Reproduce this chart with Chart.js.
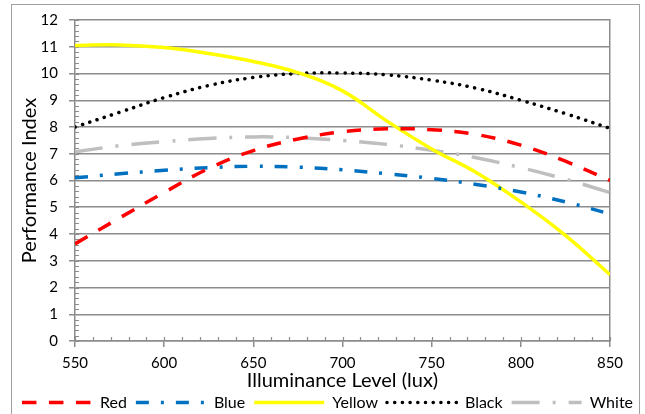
<!DOCTYPE html>
<html>
<head>
<meta charset="utf-8">
<script src="https://cdn.jsdelivr.net/npm/chart.js@4"></script>
<style>
  body { margin: 0; background: #fff; }
  #wrap { position: relative; width: 645px; height: 414px; }
  #frame { position: absolute; left: 11px; top: 4px; width: 627px; height: 420px;
           border: 1.5px solid #a0a0a0; pointer-events: none; }
</style>
</head>
<body>
<div id="wrap">
  <canvas id="chart" width="645" height="414"></canvas>
  <div id="frame"></div>
</div>
<script>
// Values
const illuminance = [550, 575, 600, 625, 650, 675, 700, 725, 750, 775, 800, 825, 850];
const redValues    = [3.63, 4.6, 5.55, 6.45, 7.12, 7.55, 7.82, 7.93, 7.9, 7.72, 7.32, 6.72, 6.0];
const blueValues   = [6.1, 6.25, 6.38, 6.48, 6.53, 6.5, 6.4, 6.25, 6.08, 5.85, 5.57, 5.2, 4.75];
const yellowValues = [11.05, 11.07, 10.97, 10.75, 10.45, 10.03, 9.35, 8.22, 7.18, 6.3, 5.2, 3.95, 2.48];
const blackValues  = [8.0, 8.55, 9.1, 9.55, 9.85, 10.0, 10.02, 9.95, 9.75, 9.45, 9.0, 8.5, 7.95];
const whiteValues  = [7.07, 7.3, 7.45, 7.57, 7.63, 7.6, 7.5, 7.35, 7.13, 6.85, 6.48, 6.05, 5.55];
const seriesNames  = ['Red', 'Blue', 'Yellow', 'Black', 'White'];

const GRID = '#8c8c8c';
const FONT = 'Lato';

function points(values) {
    return illuminance.map((x, i) => ({ x: x, y: values[i] }));
}

function lineSet(label, values, color, dash, cap) {
    return {
        label: label,
        data: points(values),
        borderColor: color,
        backgroundColor: color,
        borderWidth: 3.5,
        borderDash: dash,
        borderCapStyle: cap || 'butt',
        pointRadius: 0,
        tension: 0.4,
        fill: false
    };
}

// small inside ticks like the spreadsheet axes
const minorTicks = {
    id: 'minorTicks',
    beforeDatasetsDraw(chart) {
        const ctx = chart.ctx;
        const xs = chart.scales.x;
        const ys = chart.scales.y;
        ctx.save();
        ctx.strokeStyle = GRID;
        ctx.lineWidth = 1.2;
        ctx.beginPath();
        for (let v = 0; v <= 12.001; v += 0.2) {
            const py = Math.round(ys.getPixelForValue(v)) + 0.5;
            ctx.moveTo(xs.left, py);
            ctx.lineTo(xs.left + 4, py);
        }
        for (let v = 550; v <= 850; v += 10) {
            const px = Math.round(xs.getPixelForValue(v)) + 0.5;
            ctx.moveTo(px, ys.bottom);
            ctx.lineTo(px, ys.bottom - 4);
        }
        ctx.stroke();
        ctx.restore();
    }
};

const ctx = document.getElementById('chart').getContext('2d');
new Chart(ctx, {
    type: 'line',
    data: {
        datasets: [
            lineSet(seriesNames[0], redValues, '#ff0000', [14.5, 12.5]),
            lineSet(seriesNames[1], blueValues, '#0070c0', [13, 12, 3, 12]),
            lineSet(seriesNames[2], yellowValues, '#ffff00', []),
            lineSet(seriesNames[3], blackValues, '#000000', [0.1, 7.6], 'round'),
            lineSet(seriesNames[4], whiteValues, '#bfbfbf', [28, 13, 3, 13])
        ]
    },
    options: {
        responsive: false,
        animation: false,
        layout: { padding: { left: 10, right: 0, top: 18, bottom: -6.5 } },
        plugins: {
            tooltip: { enabled: false },
            legend: {
                position: 'bottom',
                labels: {
                    usePointStyle: true,
                    pointStyle: 'line',
                    pointStyleWidth: 70,
                    boxHeight: 15,
                    padding: 9,
                    color: '#000',
                    font: { family: FONT, size: 16 },
                    generateLabels(chart) {
                        const items = Chart.defaults.plugins.legend.labels.generateLabels(chart);
                        items.forEach(item => {
                            const ds = chart.data.datasets[item.datasetIndex];
                            item.lineDash = ds.borderDash;
                            item.lineCap = ds.borderCapStyle;
                            item.lineWidth = ds.borderWidth;
                            item.strokeStyle = ds.borderColor;
                        });
                        return items;
                    }
                }
            }
        },
        scales: {
            x: {
                type: 'linear',
                min: 550,
                max: 850,
                ticks: { stepSize: 50, color: '#000', padding: 7, font: { family: FONT, size: 15 } },
                grid: { drawOnChartArea: false, tickLength: 6, color: GRID, lineWidth: 1.5 },
                border: { color: GRID, width: 1.5 },
                title: {
                    display: true,
                    text: 'Illuminance Level (lux)',
                    color: '#000',
                    font: { family: FONT, size: 20 },
                    padding: { top: 0, bottom: -7.5 }
                },
                afterFit: s => { s.height = 44.5; }
            },
            y: {
                min: 0,
                max: 12,
                ticks: { stepSize: 1, color: '#000', padding: 11, font: { family: FONT, size: 15 } },
                grid: { color: GRID, lineWidth: 1.5, tickLength: 6 },
                border: { color: GRID, width: 1.5 },
                title: {
                    display: true,
                    text: 'Performance Index',
                    color: '#000',
                    font: { family: FONT, size: 20 },
                    padding: { top: 8, bottom: 0 }
                },
                afterFit: s => { s.width = 65; }
            },
            y2: {
                position: 'right',
                min: 0,
                max: 12,
                ticks: { display: false },
                grid: { drawOnChartArea: false, drawTicks: false },
                border: { color: GRID, width: 1.5 },
                afterFit: s => { s.width = 35; }
            }
        }
    },
    plugins: [minorTicks]
});
</script>
</body>
</html>
